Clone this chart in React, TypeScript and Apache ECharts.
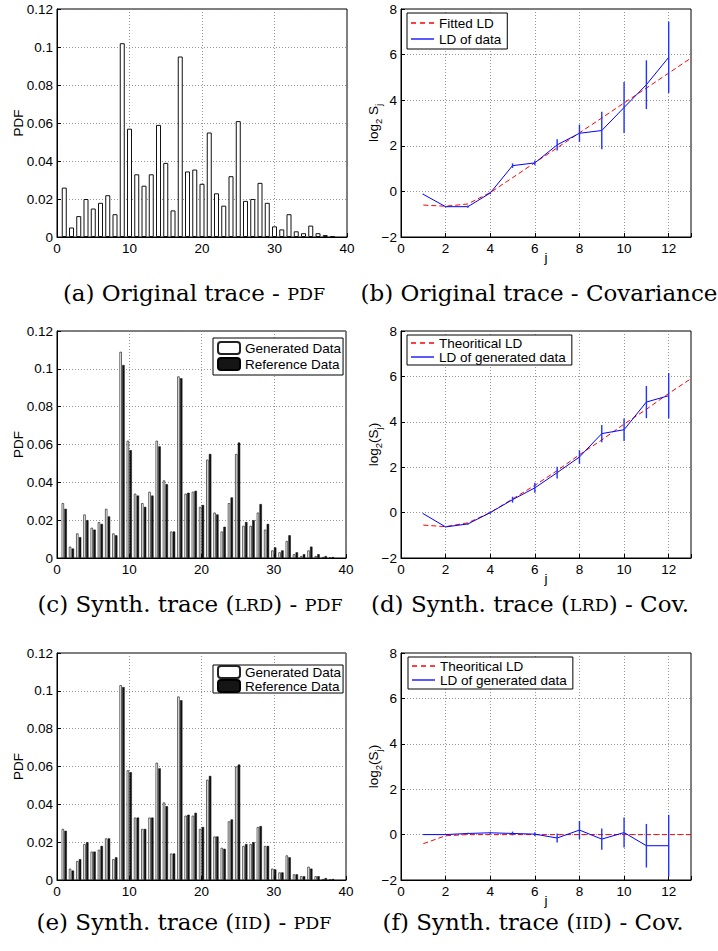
import React, { useEffect, useRef } from 'react';
import * as echarts from 'echarts';

// ---- data ----
const pdfBins = [1, 2, 3, 4, 5, 6, 7, 8, 9, 10, 11, 12, 13, 14, 15, 16, 17, 18, 19, 20, 21, 22, 23, 24, 25, 26, 27, 28, 29, 30, 31, 32, 33, 34, 35, 36, 37, 38];
const pdfOriginal = [0.026, 0.005, 0.011, 0.020, 0.015, 0.018, 0.022, 0.012, 0.102, 0.057, 0.033, 0.027, 0.033, 0.059, 0.039, 0.014, 0.095, 0.0345, 0.0355, 0.028, 0.055, 0.023, 0.0165, 0.032, 0.061, 0.019, 0.020, 0.0285, 0.018, 0.0056, 0.004, 0.012, 0.003, 0.002, 0.006, 0.002, 0.001, 0.0005];
const pdfGeneratedLRD = [0.029, 0.006, 0.013, 0.023, 0.016, 0.019, 0.026, 0.013, 0.109, 0.062, 0.034, 0.029, 0.035, 0.062, 0.041, 0.014, 0.096, 0.034, 0.035, 0.027, 0.052, 0.024, 0.014, 0.029, 0.055, 0.017, 0.017, 0.024, 0.015, 0.004, 0.003, 0.009, 0.002, 0.001, 0.004, 0.001, 0.0005, 0.0003];
const pdfGeneratedIID = [0.027, 0.006, 0.010, 0.019, 0.015, 0.016, 0.022, 0.011, 0.103, 0.058, 0.033, 0.027, 0.033, 0.062, 0.041, 0.014, 0.097, 0.034, 0.034, 0.027, 0.053, 0.023, 0.017, 0.031, 0.060, 0.018, 0.019, 0.028, 0.018, 0.006, 0.004, 0.013, 0.003, 0.002, 0.007, 0.002, 0.0005, 0.0004];

const octaves = [1, 2, 3, 4, 5, 6, 7, 8, 9, 10, 11, 12];
const fitOctaves = [1, 2, 3, 4, 5, 6, 7, 8, 9, 10, 11, 12, 13];

const ldOriginal = [-0.13, -0.67, -0.67, -0.07, 1.13, 1.25, 2.04, 2.55, 2.67, 3.68, 4.68, 5.88];
const ldOriginalErr = [0.03, 0.03, 0.05, 0.05, 0.1, 0.1, 0.25, 0.38, 0.82, 1.12, 1.07, 1.56];
const ldFitOriginal = [-0.6, -0.65, -0.55, -0.05, 0.6, 1.26, 1.91, 2.57, 3.22, 3.88, 4.53, 5.19, 5.85];

const ldLRD = [-0.05, -0.63, -0.5, 0.0, 0.57, 1.09, 1.76, 2.45, 3.48, 3.65, 4.87, 5.15];
const ldLRDErr = [0.02, 0.02, 0.03, 0.05, 0.13, 0.22, 0.26, 0.3, 0.38, 0.5, 0.71, 1.0];
const ldTheoLRD = [-0.55, -0.62, -0.45, 0.0, 0.6, 1.2, 1.85, 2.55, 3.2, 3.9, 4.55, 5.25, 5.9];

const ldIID = [0.0, 0.0, 0.05, 0.08, 0.05, 0.02, -0.15, 0.2, -0.2, 0.09, -0.49, -0.49];
const ldIIDErr = [0.02, 0.02, 0.03, 0.05, 0.08, 0.08, 0.2, 0.4, 0.47, 0.66, 0.96, 1.36];
const ldTheoIID = [-0.4, -0.05, 0, 0, 0, 0, 0, 0, 0, 0, 0, 0, 0];

const captions = [
  '{r|(a) Original trace - }{s|PDF}',
  '{r|(b) Original trace - Covariance}',
  '{r|(c) Synth. trace (}{s|LRD}{r|) - }{s|PDF}',
  '{r|(d) Synth. trace (}{s|LRD}{r|) - Cov.}',
  '{r|(e) Synth. trace (}{s|IID}{r|) - }{s|PDF}',
  '{r|(f) Synth. trace (}{s|IID}{r|) - Cov.}',
];

const SANS = '"Liberation Sans", Arial, Helvetica, sans-serif';
const SERIF = '"DejaVu Serif", serif';
const FS = 13.5;

const ICON_SOLID = 'path://M0,0H23V1.3H0Z';
const ICON_DASHED = 'path://M0,0H5V1.3H0Z M9,0H14V1.3H9Z M18,0H23V1.3H18Z';

const pairs = (xs: number[], ys: number[]) => xs.map((x, i) => [x, ys[i]]);
const triples = (xs: number[], ys: number[], es: number[]) => xs.map((x, i) => [x, ys[i], es[i]]);

const errorBarRender = (_params: any, api: any) => {
  const x = api.value(0);
  const y = api.value(1);
  const e = api.value(2);
  const p1 = api.coord([x, y + e]);
  const p2 = api.coord([x, y - e]);
  return {
    type: 'line',
    shape: { x1: p1[0], y1: p1[1], x2: p2[0], y2: p2[1] },
    style: { stroke: '#2233ff', lineWidth: 1.4 },
  };
};

const splitLine = { show: true, lineStyle: { color: '#7a7a7a', type: [1, 2], width: 0.8 } };
const axisLine = { show: true, onZero: false, lineStyle: { color: '#000', width: 1 } };
const axisTick = { show: true, inside: true, length: 4, lineStyle: { color: '#000' } };
const labelBase = { color: '#000', fontSize: FS, fontFamily: SANS, margin: 4 };

const pdfX = (gridIndex: number) => ({
  type: 'value', gridIndex, min: 0, max: 40, interval: 10,
  axisLine, axisTick, splitLine, axisLabel: { ...labelBase },
});
const ldX = (gridIndex: number) => ({
  type: 'value', gridIndex, min: 0, max: 13, interval: 2,
  axisLine, axisTick, splitLine,
  axisLabel: { ...labelBase, formatter: (v: number) => (v % 2 === 0 ? String(v) : '') },
  name: 'j', nameLocation: 'middle', nameGap: 13, nameMoveOverlap: false,
  nameTextStyle: { color: '#000', fontSize: FS, fontFamily: SANS },
});
const pdfY = (gridIndex: number) => ({
  type: 'value', gridIndex, min: 0, max: 0.12, interval: 0.02,
  axisLine, axisTick, splitLine, axisLabel: { ...labelBase },
  name: 'PDF', nameLocation: 'middle', nameGap: 32, nameRotate: 90, nameMoveOverlap: false,
  nameTextStyle: { color: '#000', fontSize: FS, fontFamily: SANS },
});
const ldY = (gridIndex: number, name: string) => ({
  type: 'value', gridIndex, min: -2, max: 8, interval: 2,
  axisLine, axisTick, splitLine,
  axisLabel: { ...labelBase, formatter: (v: number) => (v < 0 ? '\u2212' + Math.abs(v) : String(v)) },
  name, nameLocation: 'middle', nameGap: 18, nameRotate: 90, nameMoveOverlap: false,
  nameTextStyle: {
    color: '#000', fontSize: FS, fontFamily: SANS,
    rich: {
      a: { fontSize: FS, fontFamily: SANS, color: '#000', lineHeight: 20 },
      s: { fontSize: 9.5, fontFamily: SANS, color: '#000', lineHeight: 9.5, verticalAlign: 'bottom' },
    },
  },
});

const legendBase = {
  orient: 'vertical', selectedMode: false, borderColor: '#000', borderWidth: 1, borderRadius: 0,
  backgroundColor: '#fff', itemWidth: 23, itemHeight: 1.3,
  textStyle: { color: '#000', fontSize: FS, fontFamily: SANS },
};

export default function App() {
  const ref = useRef<HTMLDivElement>(null);
  useEffect(() => {
    if (!ref.current) return;
    const chart = echarts.init(ref.current, undefined, { renderer: 'svg' });
    const grids = [
      { left: 57, top: 9, width: 290, height: 228 },
      { left: 401, top: 9, width: 290, height: 228 },
      { left: 57, top: 331, width: 289, height: 227 },
      { left: 401, top: 331, width: 290, height: 227 },
      { left: 57, top: 653, width: 289, height: 227 },
      { left: 401, top: 653, width: 290, height: 227 },
    ].map((g) => ({ ...g, show: true, borderColor: '#000', borderWidth: 1, backgroundColor: 'transparent', containLabel: false, outerBoundsMode: 'none' }));

    const lineRed = (name: string, idx: number, data: number[]) => ({
      type: 'line', name, xAxisIndex: idx, yAxisIndex: idx, data: pairs(fitOctaves, data),
      symbol: 'none', showSymbol: false, z: 2,
      lineStyle: { color: '#ff0000', width: 1, type: [5, 3] }, itemStyle: { color: '#ff0000' },
    });
    const lineBlue = (name: string, idx: number, data: number[]) => ({
      type: 'line', name, xAxisIndex: idx, yAxisIndex: idx, data: pairs(octaves, data),
      symbol: 'none', showSymbol: false, z: 3,
      lineStyle: { color: '#0000ff', width: 1 }, itemStyle: { color: '#0000ff' },
    });
    const errBars = (idx: number, ys: number[], es: number[]) => ({
      type: 'custom', name: 'err' + idx, xAxisIndex: idx, yAxisIndex: idx,
      data: triples(octaves, ys, es), renderItem: errorBarRender, z: 4, encode: { x: 0, y: 1 },
    });
    const genBar = (idx: number, data: number[]) => ({
      type: 'bar', name: 'Generated Data', xAxisIndex: idx, yAxisIndex: idx, data: pairs(pdfBins, data),
      barWidth: 2.4, barGap: '15%',
      itemStyle: { color: '#ffffff', borderColor: '#222', borderWidth: 0.7 },
    });
    const refBar = (idx: number) => ({
      type: 'bar', name: 'Reference Data', xAxisIndex: idx, yAxisIndex: idx, data: pairs(pdfBins, pdfOriginal),
      barWidth: 2.4, barGap: '15%',
      itemStyle: { color: '#151515', borderColor: '#000', borderWidth: 0.5 },
    });

    const lineLegendData = (red: string, blue: string) => [
      { name: red, icon: ICON_DASHED },
      { name: blue, icon: ICON_SOLID },
    ];

    const capPos = [[194, 293], [539, 293], [190, 604], [530, 604], [184, 922], [533, 922]];

    chart.setOption({
      animation: false,
      backgroundColor: '#fff',
      grid: grids,
      xAxis: [pdfX(0), ldX(1), pdfX(2), ldX(3), pdfX(4), ldX(5)],
      yAxis: [
        pdfY(0), ldY(1, '{a|log}{s|2}{a| S}{s|j}'),
        pdfY(2), ldY(3, '{a|log}{s|2}{a|(S}{s|j}{a|)}'),
        pdfY(4), ldY(5, '{a|log}{s|2}{a|(S}{s|j}{a|)}'),
      ],
      legend: [
        { ...legendBase, left: 407, top: 13, padding: [3, 6, 3, 4], itemGap: 2, data: lineLegendData('Fitted LD', 'LD of data') },
        { ...legendBase, left: 213, top: 338, padding: [3, 2, 4, 4], itemGap: 2, itemWidth: 22, itemHeight: 12, data: ['Generated Data', 'Reference Data'] },
        { ...legendBase, left: 407, top: 335, padding: [1, 6, 1, 4], itemGap: 0, data: lineLegendData('Theoritical LD', 'LD of generated data') },
        { ...legendBase, left: 213, top: 665, padding: [0, 2, 0, 4], itemGap: 0, itemWidth: 22, itemHeight: 12, data: ['Generated Data', 'Reference Data'] },
        { ...legendBase, left: 408, top: 657, padding: [2, 6, 2, 4], itemGap: 0, data: lineLegendData('Theoritical LD', 'LD of generated data') },
      ],
      series: [
        {
          type: 'bar', name: 'PDF', xAxisIndex: 0, yAxisIndex: 0, data: pairs(pdfBins, pdfOriginal),
          barWidth: 5, itemStyle: { color: '#fff', borderColor: '#111', borderWidth: 1 },
        },
        lineRed('Fitted LD', 1, ldFitOriginal),
        lineBlue('LD of data', 1, ldOriginal),
        errBars(1, ldOriginal, ldOriginalErr),
        genBar(2, pdfGeneratedLRD),
        refBar(2),
        lineRed('Theoritical LD', 3, ldTheoLRD),
        lineBlue('LD of generated data', 3, ldLRD),
        errBars(3, ldLRD, ldLRDErr),
        genBar(4, pdfGeneratedIID),
        refBar(4),
        lineRed('Theoritical LD', 5, ldTheoIID),
        lineBlue('LD of generated data', 5, ldIID),
        errBars(5, ldIID, ldIIDErr),
      ],
      graphic: captions.map((text, i) => ({
        type: 'text',
        x: capPos[i][0],
        y: capPos[i][1],
        style: {
          text,
          align: 'center',
          verticalAlign: 'middle',
          fill: '#000',
          rich: {
            r: { fontFamily: SERIF, fontSize: 23, lineHeight: 22, fill: '#000', color: '#000' },
            s: { fontFamily: SERIF, fontSize: 17.5, lineHeight: 22, padding: [2, 0, 0, 0], fill: '#000', color: '#000' },
          },
        },
      })),
    });
    return () => chart.dispose();
  }, []);
  return <div ref={ref} style={{ position: 'fixed', left: 0, top: 0, width: 718, height: 951 }} />;
}
